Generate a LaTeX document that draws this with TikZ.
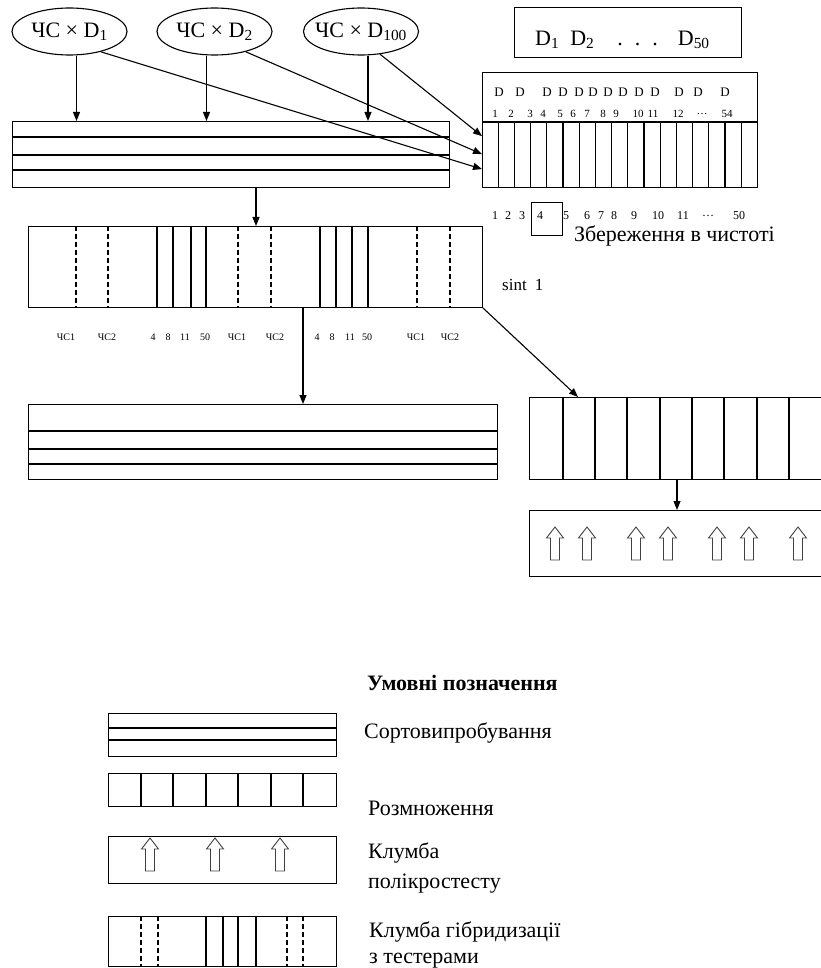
\documentclass[tikz,border=0pt]{standalone}
\usepackage{fontspec}
\setmainfont{Liberation Serif}
\usetikzlibrary{arrows.meta,shapes.geometric}

\tikzset{
  box/.style 2 args={draw,line width=1.1pt,rectangle,inner sep=0pt,anchor=north west,
    minimum width=#1pt,minimum height=#2pt},
  cross/.style={draw,ellipse,line width=1.1pt,minimum width=115pt,minimum height=47pt,
    inner xsep=-12pt,inner ysep=0pt,font=\fontsize{22}{24}\selectfont},
  arr/.style={line width=1.1pt,-{Triangle[length=9pt,width=7pt]}},
  rule/.style={line width=1.1pt},
  dashrule/.style={line width=1.1pt,dash pattern=on 5pt off 3pt},
  big/.style={inner sep=0pt,font=\fontsize{22}{24}\selectfont},
  legend/.style={inner sep=0pt,anchor=west,align=left,font=\fontsize{22}{30}\selectfont},
  small/.style={inner sep=0pt,font=\fontsize{12}{14}\selectfont},
  tiny/.style={inner sep=0pt,font=\fontsize{10}{12}\selectfont},
  hollow/.pic={\draw[line width=0.9pt,black!75] (0,0) -- (8.5,11) -- (4.5,11) -- (4.5,33)
    -- (-4.5,33) -- (-4.5,11) -- (-8.5,11) -- cycle;}
}

\begin{document}
\begin{tikzpicture}[x=1pt,y=-1pt]
  \useasboundingbox (0,0) rectangle (820,968);

  % crosses
  \node[cross] (e1) at (69.5,31.5) {ЧС × D\textsubscript{1}};
  \node[cross] (e2) at (214.5,31.5) {ЧС × D\textsubscript{2}};
  \node[cross] (e3) at (361,31.5) {ЧС × D\textsubscript{100}};

  % parents
  \node[box={227}{50}] (parents) at (514,7) {};
  \node[big,anchor=west] (plist) at (535,40) {D\textsubscript{1}\hspace{11pt}D\textsubscript{2}\hspace{23pt}.\hspace{12pt}.\hspace{12pt}.\hspace{20pt}D\textsubscript{50}};

  % pure lines
  \node[box={275}{115}] (pure) at (482,72) {};
  \draw[rule] (482,122) -- (757,122);
  \foreach \i in {1,...,16}
    \draw[rule] (482+16.2*\i,122) -- (482+16.2*\i,187);
  \foreach \x [count=\i] in {499,520,547,563,579,593,608,623,639,655,679,698,725}
    \node[small,font=\fontsize{13}{14}\selectfont] (dd\i) at (\x,92) {D};
  \foreach \x/\t [count=\i] in {495/1,511/2,530/3,543/4,560/5,573/6,587/7,603/8,616/9,
      638/10,653/11,678/12,702/{\dots},727/54}
    \node[small,font=\fontsize{11}{12}\selectfont] (dn\i) at (\x,114) {\t};
  \foreach \x/\t [count=\i] in {495/1,508/2,522/3,540/4,566/5,587/6,601/7,614/8,634/9,
      658/10,683/11,708/{\dots},739/50}
    \node[small] (pn\i) at (\x,216) {\t};
  \node[box={31}{33}] (keep) at (531,202) {};
  \node[big,anchor=west] (keeptxt) at (574,236) {Збереження в чистоті};

  % variety trial
  \node[box={437}{66}] (trial) at (12,121) {};
  \foreach \y in {137,155,170}
    \draw[rule] (12,\y) -- (449,\y);

  % hybridization
  \node[box={454}{81}] (hybrid) at (28,226) {};
  \foreach \x in {157,173,191,206,320,336,352,368}
    \draw[rule] (\x,226) -- (\x,307);
  \foreach \x in {76,108,238,271,417,450}
    \draw[dashrule] (\x,226) -- (\x,307);
  \foreach \x/\t [count=\i] in {66/ЧС1,107/ЧС2,153/4,168/8,185/11,205/50,237/ЧС1,275/ЧС2,
      317/4,332/8,350/11,367/50,416/ЧС1,450/ЧС2}
    \node[tiny] (hl\i) at (\x,337) {\t};
  \node[inner sep=0pt,anchor=west,font=\fontsize{17}{18}\selectfont] (sint) at (502,285) {sint\hspace{8pt}1};

  % second trial
  \node[box={469}{75}] (trial2) at (28,404) {};
  \foreach \y in {431,449,464}
    \draw[rule] (28,\y) -- (497,\y);

  % multiplication
  \node[box={320}{82}] (multi) at (529,397) {};
  \foreach \x in {563,595,627,660,692,724,757,789}
    \draw[rule] (\x,397) -- (\x,479);

  % polycross
  \node[box={320}{66}] (poly) at (529,510) {};
  \foreach \x in {555,587,636,668,717,749,798}
    \pic at (\x,527) {hollow};

  % connectors
  \draw[arr] ([xshift=7pt]e1.south) -- ([xshift=7pt]e1.south |- trial.north);
  \draw[arr] ([xshift=-8pt]e2.south) -- ([xshift=-8pt]e2.south |- trial.north);
  \draw[arr] ([xshift=7pt]e3.south) -- ([xshift=7pt]e3.south |- trial.north);
  \draw[arr] (e1.-33) -- ([yshift=19pt]pure.south west);
  \draw[arr] (e2.-33) -- ([yshift=34pt]pure.south west);
  \draw[arr] (e3.-50) -- ([yshift=52pt]pure.south west);
  \draw[arr] ([xshift=244pt]trial.south west) -- ([xshift=244pt]trial.south west |- hybrid.north);
  \draw[arr] ([xshift=275pt]hybrid.south west) -- ([xshift=275pt]hybrid.south west |- trial2.north);
  \draw[arr] (hybrid.south east) -- ([xshift=49pt]multi.north west);
  \draw[arr] ([xshift=148pt]multi.south west) -- ([xshift=148pt]poly.north west);

  % legend
  \node[inner sep=0pt,anchor=west,font=\fontsize{22}{22}\selectfont\bfseries] (ltitle) at (367,683) {Умовні позначення};
  \node[box={228}{43}] (lg1) at (108,713) {};
  \foreach \y in {728,740}
    \draw[rule] (108,\y) -- (336,\y);
  \node[legend] (lt1) at (364,733) {Сортовипробування};
  \node[box={228}{33}] (lg2) at (108,773) {};
  \foreach \x in {141,173,206,238,271,303}
    \draw[rule] (\x,773) -- (\x,806);
  \node[legend] (lt2) at (368,808) {Розмноження};
  \node[box={228}{47}] (lg3) at (108,836) {};
  \foreach \x in {150,215,280}
    \pic at (\x,838) {hollow};
  \node[legend] (lt3) at (368,868) {Клумба\\полікростесту};
  \node[box={228}{50}] (lg4) at (108,916) {};
  \foreach \x in {206,223,238,256}
    \draw[rule] (\x,916) -- (\x,966);
  \foreach \x in {141,158,287,303}
    \draw[dashrule] (\x,916) -- (\x,966);
  \node[legend,font=\fontsize{22}{26}\selectfont] (lt4) at (369,945) {Клумба гібридизації\\з тестерами};
\end{tikzpicture}
\end{document}
